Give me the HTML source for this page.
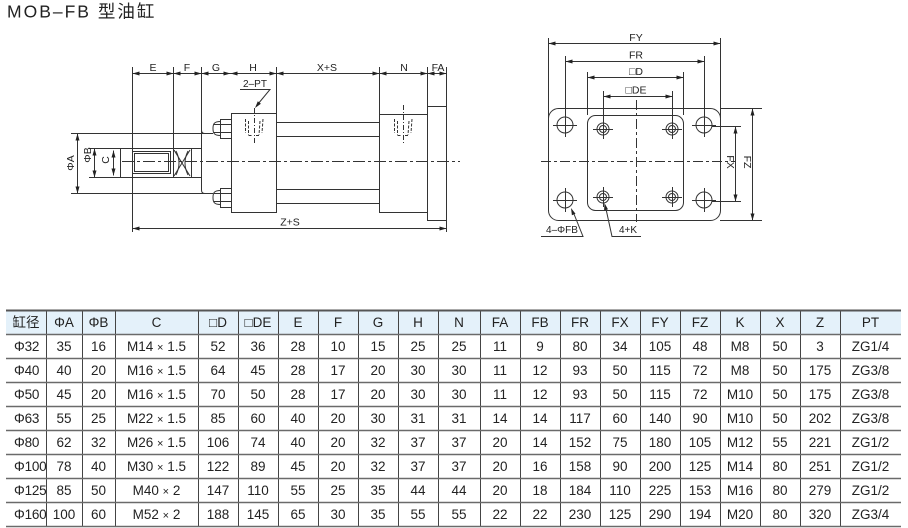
<!DOCTYPE html>
<html><head><meta charset="utf-8">
<style>
html,body{margin:0;padding:0;background:#fff;}
body{width:908px;height:528px;position:relative;overflow:hidden;font-family:"Liberation Sans","Noto Sans CJK SC",sans-serif;}
svg{position:absolute;left:0;top:0;}
table{position:absolute;left:6px;top:310px;width:895px;border-collapse:collapse;table-layout:fixed;border:0;border-spacing:0;}
tr{height:24px;}
td{height:24px;max-height:24px;padding:0;line-height:15px;vertical-align:middle;text-align:center;font-size:13.5px;color:#222;white-space:nowrap;overflow:hidden;font-family:"Liberation Sans","Noto Sans CJK SC",sans-serif;}
td.l{text-align:left;padding-left:8px;overflow:visible;letter-spacing:-0.2px;}
.x{font-size:11px;line-height:0;}
</style></head><body>
<svg width="908" height="528" viewBox="0 0 908 528" xmlns="http://www.w3.org/2000/svg">
<text x="7" y="17.5" font-family="Liberation Sans, Noto Sans CJK SC, sans-serif" font-size="17.5" letter-spacing="2" fill="#222">MOB–FB 型油缸</text>

<g stroke="#333" stroke-width="1" fill="none">
<path d="M132.5,73.5 H446.5"/>
<path d="M132.5,67 V232"/>
<path d="M173.5,67 V148.5"/>
<path d="M201.5,67 V130 Q201.5,133.5 205,133.5"/>
<path d="M201.5,130 V190 Q201.5,193.5 205,193.5"/>
<path d="M276.5,67 V113.5"/>
<path d="M379.5,67 V212.5"/>
<path d="M427.5,67 V220.5"/>
<path d="M446.5,67 V232"/>
<path d="M71,133.5 H213"/>
<path d="M71,193.5 H213"/>
<rect x="231.5" y="113.5" width="45" height="99"/>
<rect x="379.5" y="114.5" width="48" height="98"/>
<rect x="427.5" y="106.5" width="19" height="114"/>
<path d="M276.5,122.5 H379.5 M276.5,136.5 H379.5 M276.5,189.5 H379.5 M276.5,203.5 H379.5"/>
<rect x="94.5" y="148.5" width="79" height="29"/>
<rect x="173.5" y="148.5" width="18" height="29"/>
<rect x="191.5" y="148.5" width="10" height="29"/>
<path d="M120.5,148.5 V177.5"/>
<rect x="132.5" y="151.5" width="38" height="22"/>
<rect x="134.5" y="153.5" width="34" height="18"/>
<path d="M174,150 L190,176 M174,176 L190,150"/>
<path d="M176,151 Q182,163 176,175 M188,151 Q182,163 188,175"/>
<rect x="220.5" y="119.5" width="11" height="19"/>
<path d="M220.5,121.5 C214,121.5 213,124 213,128.5 C213,133 214,135.5 220.5,135.5"/>
<path d="M214,124.5 H231.5 M214,132.5 H231.5"/>
<rect x="220.5" y="188.5" width="11" height="19"/>
<path d="M220.5,190.5 C214,190.5 213,193 213,197.5 C213,202 214,204.5 220.5,204.5"/>
<path d="M214,193.5 H231.5 M214,201.5 H231.5"/>
<path d="M77.5,133.5 V193.5"/>
<path d="M89,148.5 H94.5 M89,177.5 H94.5"/>
<path d="M113.5,150.5 V175.5"/>
<path d="M132.5,228.5 H446.5"/>
<path d="M240,89.5 H270 L258,104"/>
</g>

<path d="M122,161.5 H460" stroke="#333" stroke-width="1" stroke-dasharray="12,3,3,3" fill="none"/>

<g stroke="#333" stroke-width="1" fill="none" stroke-dasharray="3,1.5">
<path d="M245.5,119 V133 M248.5,121 V135 M260,121 L259,135 M263,119 L262,133 M248.5,135.5 H252 M256,135.5 H259"/>
<path d="M394.5,119 V133 M397.5,121 V135 M409,121 L408,135 M412,119 L411,133 M397.5,135.5 H401 M405,135.5 H408"/>
</g>
<g stroke="#333" stroke-width="1" fill="none" stroke-dasharray="5,2,1,2">
<path d="M254.5,108 V143"/>
<path d="M403.5,105 V143"/>
</g>

<g fill="#222" stroke="none">
<polygon points="132.5,73.5 139.5,71.5 139.5,75.5"/>
<polygon points="173.5,73.5 166.5,71.5 166.5,75.5"/>
<polygon points="173.5,73.5 180.5,71.5 180.5,75.5"/>
<polygon points="201.5,73.5 194.5,71.5 194.5,75.5"/>
<polygon points="201.5,73.5 208.5,71.5 208.5,75.5"/>
<polygon points="230.5,73.5 223.5,71.5 223.5,75.5"/>
<polygon points="230.5,73.5 237.5,71.5 237.5,75.5"/>
<polygon points="276.5,73.5 269.5,71.5 269.5,75.5"/>
<polygon points="276.5,73.5 283.5,71.5 283.5,75.5"/>
<polygon points="379.5,73.5 372.5,71.5 372.5,75.5"/>
<polygon points="379.5,73.5 386.5,71.5 386.5,75.5"/>
<polygon points="427.5,73.5 420.5,71.5 420.5,75.5"/>
<polygon points="427.5,73.5 434.5,71.5 434.5,75.5"/>
<polygon points="446.5,73.5 439.5,71.5 439.5,75.5"/>
<polygon points="132.5,228.5 139.5,226.5 139.5,230.5"/>
<polygon points="446.5,228.5 439.5,226.5 439.5,230.5"/>
<polygon points="77.5,133.5 75.5,140.5 79.5,140.5"/>
<polygon points="77.5,193.5 75.5,186.5 79.5,186.5"/>
<polygon points="94.5,148.5 92.5,155.5 96.5,155.5"/>
<polygon points="94.5,177.5 92.5,170.5 96.5,170.5"/>
<polygon points="113.5,150.5 111.5,157.5 115.5,157.5"/>
<polygon points="113.5,175.5 111.5,168.5 115.5,168.5"/>
<polygon points="255,108 260.9,103.7 257.8,101.2"/>
</g>

<g font-family="Liberation Sans, sans-serif" font-size="10.5" fill="#222" text-anchor="middle">
<text x="153" y="71">E</text>
<text x="187" y="71">F</text>
<text x="216" y="71">G</text>
<text x="253" y="71">H</text>
<text x="327" y="71">X+S</text>
<text x="404" y="71">N</text>
<text x="438" y="71">FA</text>
<text x="290" y="225.5">Z+S</text>
<text x="255" y="87" font-size="10">2–PT</text>
<text transform="translate(74,163) rotate(-90)">ΦA</text>
<text transform="translate(91,155) rotate(-90)">ΦB</text>
<text transform="translate(109,160) rotate(-90)">C</text>
</g>

<g stroke="#333" stroke-width="1" fill="none">
<rect x="548.5" y="108.5" width="172" height="112" rx="10"/>
<rect x="587.5" y="115.5" width="96" height="95" rx="8"/>
<circle cx="565" cy="125" r="8"/>
<circle cx="704" cy="125" r="8"/>
<circle cx="565" cy="200" r="8"/>
<circle cx="704" cy="200" r="8"/>
<path d="M553,125.5 H577 M565.5,113 V137 M692,125.5 H716 M704.5,113 V137 M553,200.5 H577 M565.5,188 V212 M692,200.5 H716 M704.5,188 V212"/>
<circle cx="603" cy="129" r="6"/><circle cx="603" cy="129" r="3.5"/>
<circle cx="672" cy="129" r="6"/><circle cx="672" cy="129" r="3.5"/>
<circle cx="603" cy="197" r="6"/><circle cx="603" cy="197" r="3.5"/>
<circle cx="672" cy="197" r="6"/><circle cx="672" cy="197" r="3.5"/>
<path d="M593,129.5 H613 M662,129.5 H682 M593,197.5 H613 M662,197.5 H682 M603.5,207 V187 M672.5,207 V187"/>
<path d="M548.5,38 V118 M720.5,38 V118"/>
<path d="M565.5,56 V113 M704.5,56 V113"/>
<path d="M587.5,72 V115 M683.5,72 V115"/>
<path d="M603.5,91 V139 M672.5,91 V139"/>
<path d="M720,108.5 H762 M720,220.5 H762"/>
<path d="M712,126.5 H741 M712,201.5 H741"/>
<path d="M548.5,43.5 H720.5"/>
<path d="M565.5,61.5 H704.5"/>
<path d="M587.5,77.5 H683.5"/>
<path d="M603.5,96.5 H672.5"/>
<path d="M752.5,108.5 V220.5"/>
<path d="M735.5,126.5 V201.5"/>
<path d="M541,236.5 H583 L574,214"/>
<path d="M641,236.5 H612 L606,209"/>
</g>
<g stroke="#333" stroke-width="1" fill="none" stroke-dasharray="10,3,3,3">
<path d="M636.5,100 V222"/>
<path d="M541,161.5 H735"/>
</g>
<g fill="#222" stroke="none">
<polygon points="548.5,43.5 555.5,41.5 555.5,45.5"/>
<polygon points="720.5,43.5 713.5,41.5 713.5,45.5"/>
<polygon points="565.5,61.5 572.5,59.5 572.5,63.5"/>
<polygon points="704.5,61.5 697.5,59.5 697.5,63.5"/>
<polygon points="587.5,77.5 594.5,75.5 594.5,79.5"/>
<polygon points="683.5,77.5 676.5,75.5 676.5,79.5"/>
<polygon points="603.5,96.5 610.5,94.5 610.5,98.5"/>
<polygon points="672.5,96.5 665.5,94.5 665.5,98.5"/>
<polygon points="752.5,108.5 750.5,115.5 754.5,115.5"/>
<polygon points="752.5,220.5 750.5,213.5 754.5,213.5"/>
<polygon points="735.5,126.5 733.5,133.5 737.5,133.5"/>
<polygon points="735.5,201.5 733.5,194.5 737.5,194.5"/>
<polygon points="571,208 575.5,213.7 571.9,215.2"/>
<polygon points="604.5,203 608,209.4 604.1,210.3"/>
</g>
<g font-family="Liberation Sans, DejaVu Sans, sans-serif" font-size="10.5" fill="#222" text-anchor="middle">
<text x="636" y="41">FY</text>
<text x="636" y="58.5">FR</text>
<text x="636" y="75">□D</text>
<text x="636" y="93.5">□DE</text>
<text transform="translate(727,162) rotate(90)">FX</text>
<text transform="translate(744,162) rotate(90)">FZ</text>
<text x="562" y="233" font-size="10">4–ΦFB</text>
<text x="628" y="233" font-size="10">4+K</text>
</g>

<rect x="6" y="310" width="895" height="24" fill="#e4f1fa"/>
<g stroke="#444" stroke-width="1">
<path d="M46.5,310 V526 M82.5,310 V526 M115.5,310 V526 M198.5,310 V526 M238.5,310 V526 M278.5,310 V526 M318.5,310 V526 M358.5,310 V526 M398.5,310 V526 M438.5,310 V526 M480.5,310 V526 M520.5,310 V526 M560.5,310 V526 M600.5,310 V526 M640.5,310 V526 M680.5,310 V526 M720.5,310 V526 M760.5,310 V526 M800.5,310 V526 M840.5,310 V526"/>
</g>
<g stroke="#6a6a6a" stroke-width="1.5">
<path d="M6,310.5 H901" stroke="#555" stroke-width="2"/>
<path d="M6,334.5 H901 M6,358.5 H901 M6,382.5 H901 M6,406.5 H901 M6,430.5 H901 M6,454.5 H901 M6,478.5 H901 M6,502.5 H901 M6,526.5 H901"/>
</g>
</svg>

<table>
<colgroup>
<col style="width:40px"><col style="width:36px"><col style="width:33px"><col style="width:83px">
<col style="width:40px"><col style="width:40px"><col style="width:40px"><col style="width:40px"><col style="width:40px"><col style="width:40px">
<col style="width:42px">
<col style="width:40px"><col style="width:40px"><col style="width:40px"><col style="width:40px"><col style="width:40px"><col style="width:40px"><col style="width:40px"><col style="width:40px"><col style="width:40px">
<col style="width:61px">
</colgroup>
<tr><td>缸径</td><td>ΦA</td><td>ΦB</td><td>C</td><td>□D</td><td>□DE</td><td>E</td><td>F</td><td>G</td><td>H</td><td>N</td><td>FA</td><td>FB</td><td>FR</td><td>FX</td><td>FY</td><td>FZ</td><td>K</td><td>X</td><td>Z</td><td>PT</td></tr>
<tr><td class="l">Φ32</td><td>35</td><td>16</td><td>M14 <span class="x">×</span> 1.5</td><td>52</td><td>36</td><td>28</td><td>10</td><td>15</td><td>25</td><td>25</td><td>11</td><td>9</td><td>80</td><td>34</td><td>105</td><td>48</td><td>M8</td><td>50</td><td>3</td><td>ZG1/4</td></tr>
<tr><td class="l">Φ40</td><td>40</td><td>20</td><td>M16 <span class="x">×</span> 1.5</td><td>64</td><td>45</td><td>28</td><td>17</td><td>20</td><td>30</td><td>30</td><td>11</td><td>12</td><td>93</td><td>50</td><td>115</td><td>72</td><td>M8</td><td>50</td><td>175</td><td>ZG3/8</td></tr>
<tr><td class="l">Φ50</td><td>45</td><td>20</td><td>M16 <span class="x">×</span> 1.5</td><td>70</td><td>50</td><td>28</td><td>17</td><td>20</td><td>30</td><td>30</td><td>11</td><td>12</td><td>93</td><td>50</td><td>115</td><td>72</td><td>M10</td><td>50</td><td>175</td><td>ZG3/8</td></tr>
<tr><td class="l">Φ63</td><td>55</td><td>25</td><td>M22 <span class="x">×</span> 1.5</td><td>85</td><td>60</td><td>40</td><td>20</td><td>30</td><td>31</td><td>31</td><td>14</td><td>14</td><td>117</td><td>60</td><td>140</td><td>90</td><td>M10</td><td>50</td><td>202</td><td>ZG3/8</td></tr>
<tr><td class="l">Φ80</td><td>62</td><td>32</td><td>M26 <span class="x">×</span> 1.5</td><td>106</td><td>74</td><td>40</td><td>20</td><td>32</td><td>37</td><td>37</td><td>20</td><td>14</td><td>152</td><td>75</td><td>180</td><td>105</td><td>M12</td><td>55</td><td>221</td><td>ZG1/2</td></tr>
<tr><td class="l">Φ100</td><td>78</td><td>40</td><td>M30 <span class="x">×</span> 1.5</td><td>122</td><td>89</td><td>45</td><td>20</td><td>32</td><td>37</td><td>37</td><td>20</td><td>16</td><td>158</td><td>90</td><td>200</td><td>125</td><td>M14</td><td>80</td><td>251</td><td>ZG1/2</td></tr>
<tr><td class="l">Φ125</td><td>85</td><td>50</td><td>M40 <span class="x">×</span> 2</td><td>147</td><td>110</td><td>55</td><td>25</td><td>35</td><td>44</td><td>44</td><td>20</td><td>18</td><td>184</td><td>110</td><td>225</td><td>153</td><td>M16</td><td>80</td><td>279</td><td>ZG1/2</td></tr>
<tr><td class="l">Φ160</td><td>100</td><td>60</td><td>M52 <span class="x">×</span> 2</td><td>188</td><td>145</td><td>65</td><td>30</td><td>35</td><td>55</td><td>55</td><td>22</td><td>22</td><td>230</td><td>125</td><td>290</td><td>194</td><td>M20</td><td>80</td><td>320</td><td>ZG3/4</td></tr>
</table>
</body></html>
